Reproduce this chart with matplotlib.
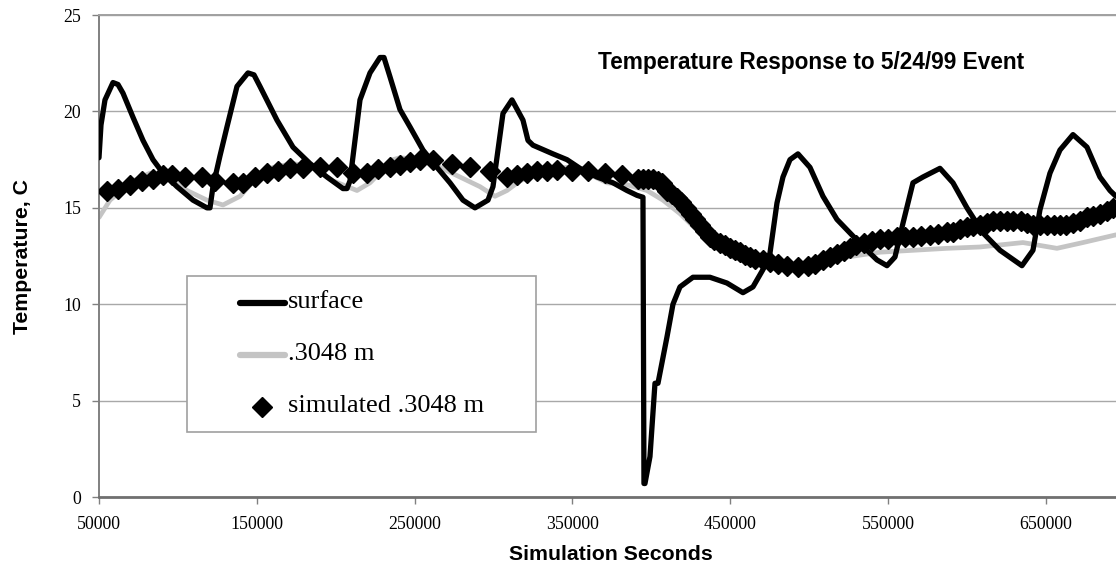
import matplotlib
matplotlib.use("Agg")
import matplotlib.pyplot as plt
from matplotlib.lines import Line2D
from matplotlib.patches import Rectangle

# Measured surface temperature
surface_t = [50000, 51270, 53800, 58870, 62040, 65210, 71550, 77880, 84220, 90560,
             99430, 109570, 118440, 120340, 122240, 126680, 131110, 137450, 144420, 148220,
             152020, 162800, 172940, 183710, 194480, 204620, 207160, 209060, 215400, 221740,
             228070, 230600, 234400, 240740, 247080, 255320, 264190, 272430, 280670, 288270,
             296510, 299680, 306020, 311720, 318690, 321860, 325030, 337700, 346570, 354810,
             365580, 375720, 384590, 390930, 394730, 395360, 396000, 399170, 402340, 404240,
             409940, 413740, 418180, 426420, 437190, 447960, 458100, 464440, 470780, 475220,
             479650, 483450, 487890, 492960, 500560, 508800, 517670, 525910, 534150, 543020,
             549360, 554430, 559500, 565830, 572170, 582940, 591180, 600050, 610190, 620960,
             634900, 641880, 646310, 652650, 658990, 667230, 676110, 684340, 690680, 694480]
surface_temp = [17.6, 19.3, 20.6, 21.5, 21.4, 20.95, 19.7, 18.5, 17.5, 16.8,
                16.1, 15.4, 15.0, 15.0, 16.1, 17.7, 19.2, 21.3, 22.0, 21.9,
                21.3, 19.55, 18.15, 17.3, 16.6, 16.0, 16.0, 16.4, 20.6, 22.0,
                22.8, 22.8, 21.8, 20.1, 19.2, 18.0, 17.1, 16.3, 15.4, 15.0,
                15.4, 16.1, 19.9, 20.6, 19.55, 18.5, 18.25, 17.8, 17.5, 17.05,
                16.6, 16.3, 15.9, 15.65, 15.55, 0.7, 0.7, 2.1, 5.9, 5.9,
                8.3, 10.0, 10.9, 11.4, 11.4, 11.1, 10.6, 10.9, 11.8, 12.65,
                15.25, 16.6, 17.5, 17.8, 17.1, 15.6, 14.4, 13.7, 13.0, 12.3,
                12.0, 12.45, 14.2, 16.3, 16.6, 17.05, 16.3, 15.0, 13.7, 12.8,
                12.0, 12.8, 14.9, 16.8, 18.0, 18.8, 18.15, 16.6, 15.9, 15.6]

# Measured temperature at .3048 m depth
depth_t = [50000, 56970, 71550, 82320, 93090, 105770, 118440, 128580, 139350, 150120,
           160260, 172940, 185610, 198290, 213500, 221740, 236310, 240740, 253420, 266090,
           278760, 291430, 300940, 308550, 316790, 333900, 346570, 359240, 371920, 384590,
           397260, 407400, 418180, 428950, 439090, 451770, 464440, 477110, 494220, 524000,
           544920, 587370, 608290, 635540, 657090, 673560, 694480]
depth_temp = [14.5, 15.4, 16.4, 16.8, 16.6, 15.9, 15.4, 15.15, 15.6, 16.6,
              17.1, 17.3, 17.1, 16.4, 15.9, 16.3, 17.5, 17.6, 17.5, 17.1,
              16.6, 16.1, 15.6, 15.9, 16.4, 17.0, 17.1, 16.8, 16.3, 16.2,
              15.9, 15.4, 14.7, 13.85, 13.2, 12.45, 12.1, 11.9, 12.0, 12.45,
              12.7, 12.9, 12.97, 13.2, 12.9, 13.2, 13.6]

# Simulated temperature at .3048 m depth
sim_t = [55000, 62000, 69500, 77000, 84000, 90500, 96500, 104500, 115000, 123500,
         135000, 141000, 149000, 156500, 163500, 171000, 179500, 190000, 201000, 211000,
         220000, 227000, 234500, 241000, 247000, 253500, 261500, 273500, 285000, 298000,
         308500, 315000, 321000, 327500, 334000, 340000, 350000, 360000, 370500, 381500,
         391500, 395000, 398000, 401000, 404000, 407000, 410000, 413000, 416000, 419000,
         422000, 425000, 428000, 431000, 434000, 437000, 440000, 443500, 447000, 450000,
         453000, 456000, 459500, 462500, 466000, 471000, 475500, 480000, 486000, 493000,
         499000, 504000, 509000, 513500, 518000, 522000, 526000, 530000, 535000, 540000,
         545000, 550000, 555500, 561000, 566000, 571000, 576500, 582000, 587500, 591000,
         595500, 600000, 604000, 608500, 612500, 616500, 621000, 625500, 629500, 634000,
         638000, 642000, 646500, 651000, 655000, 659000, 663000, 667000, 671500, 676000,
         680000, 684500, 688500, 692500]
sim_temp = [15.9, 16.0, 16.2, 16.4, 16.5, 16.7, 16.7, 16.6, 16.6, 16.4,
            16.3, 16.3, 16.6, 16.8, 16.9, 17.05, 17.05, 17.1, 17.1, 16.8,
            16.8, 17.0, 17.1, 17.2, 17.4, 17.5, 17.5, 17.3, 17.1, 16.9,
            16.6, 16.7, 16.8, 16.9, 16.9, 16.95, 16.9, 16.9, 16.8, 16.7,
            16.5, 16.5, 16.5, 16.5, 16.4, 16.3, 15.9, 15.7, 15.5, 15.3,
            15.0, 14.7, 14.4, 14.1, 13.8, 13.5, 13.35, 13.2, 13.05, 12.9,
            12.8, 12.7, 12.55, 12.45, 12.35, 12.3, 12.2, 12.1, 12.0, 11.95,
            12.0, 12.1, 12.3, 12.45, 12.6, 12.75, 12.9, 13.05, 13.2, 13.3,
            13.4, 13.4, 13.5, 13.5, 13.5, 13.55, 13.6, 13.65, 13.75, 13.75,
            13.9, 14.0, 14.05, 14.1, 14.2, 14.3, 14.3, 14.3, 14.3, 14.3,
            14.2, 14.1, 14.1, 14.1, 14.1, 14.1, 14.1, 14.2, 14.3, 14.5,
            14.6, 14.7, 14.85, 15.0]

x_ticks = [50000, 150000, 250000, 350000, 450000, 550000, 650000]
y_ticks = [0, 5, 10, 15, 20, 25]
legend_labels = ["surface", ".3048 m", "simulated .3048 m"]

serif = "Liberation Serif"
sans = "Liberation Sans"
W, H = 1116, 569
SURF_C, DEPTH_C = "black", "#c4c4c4"


def fpx(x, y):
    """pixel position (from top-left) -> figure fraction"""
    return x / W, 1 - y / H


fig = plt.figure(figsize=(W / 100, H / 100), dpi=100)
ax = fig.add_axes([0.0887, 0.1265, 0.9113, 0.847])

ax.plot(depth_t, depth_temp, color=DEPTH_C, lw=3.4, zorder=2, solid_capstyle="round")
ax.plot(sim_t, sim_temp, linestyle="none", marker="D", ms=10, color="black", zorder=3)
ax.plot(surface_t, surface_temp, color=SURF_C, lw=3.8, zorder=4,
        solid_joinstyle="round", solid_capstyle="round")

ax.set_xlim(50000, 694500)
ax.set_ylim(0, 25)
ax.set_xticks(x_ticks)
ax.set_yticks(y_ticks)
ax.set_xticklabels([str(v) for v in x_ticks], fontfamily=serif, fontsize=12.8)
ax.set_yticklabels([str(v) for v in y_ticks], fontfamily=serif, fontsize=12.8)
ax.tick_params(axis="x", direction="out", length=5, width=1, color="#808080", pad=9)
ax.tick_params(axis="y", direction="out", length=5, width=1, color="#808080", pad=8)

ax.grid(axis="y", color="#a8a8a8", lw=1)
ax.set_axisbelow(True)
ax.spines["right"].set_visible(False)
ax.spines["top"].set_color("#a0a0a0")
ax.spines["top"].set_linewidth(1.4)
ax.spines["left"].set_color("#808080")
ax.spines["left"].set_linewidth(1.4)
ax.spines["bottom"].set_color("#707070")
ax.spines["bottom"].set_linewidth(2)

fig.text(*fpx(611, 555), "Simulation Seconds", ha="center", va="center",
         fontfamily=sans, fontweight="bold", fontsize=15.3)
fig.text(*fpx(23, 257), "Temperature, C", ha="center", va="center", rotation=90,
         fontfamily=sans, fontweight="bold", fontsize=15.3)
fig.text(*fpx(811, 63), "Temperature Response to 5/24/99 Event", ha="center", va="center",
         fontfamily=sans, fontweight="bold", fontsize=16.3)

# legend box, drawn by hand so its padding follows the layout
x0, y0 = fpx(187, 432)
x1, y1 = fpx(536, 276)
fig.add_artist(Rectangle((x0, y0), x1 - x0, y1 - y0, transform=fig.transFigure,
                         facecolor="white", edgecolor="#a0a0a0", lw=1.2, zorder=10))
rows = [303, 355, 407]
hx0, hx1 = fpx(240, 0)[0], fpx(285, 0)[0]
fig.add_artist(Line2D([hx0, hx1], [fpx(0, rows[0])[1]] * 2, transform=fig.transFigure,
                      color=SURF_C, lw=4.5, solid_capstyle="round", zorder=11))
fig.add_artist(Line2D([hx0, hx1], [fpx(0, rows[1])[1]] * 2, transform=fig.transFigure,
                      color=DEPTH_C, lw=4.5, solid_capstyle="round", zorder=11))
fig.add_artist(Line2D([fpx(262, 0)[0]], [fpx(0, rows[2])[1]], transform=fig.transFigure,
                      linestyle="none", marker="D", ms=10, color="black", zorder=11))
for label, row in zip(legend_labels, rows):
    fig.text(*fpx(288, row - 1), label, ha="left", va="center", fontfamily=serif,
             fontsize=19, zorder=12)

fig.savefig("out.png", dpi=100, facecolor="white")
